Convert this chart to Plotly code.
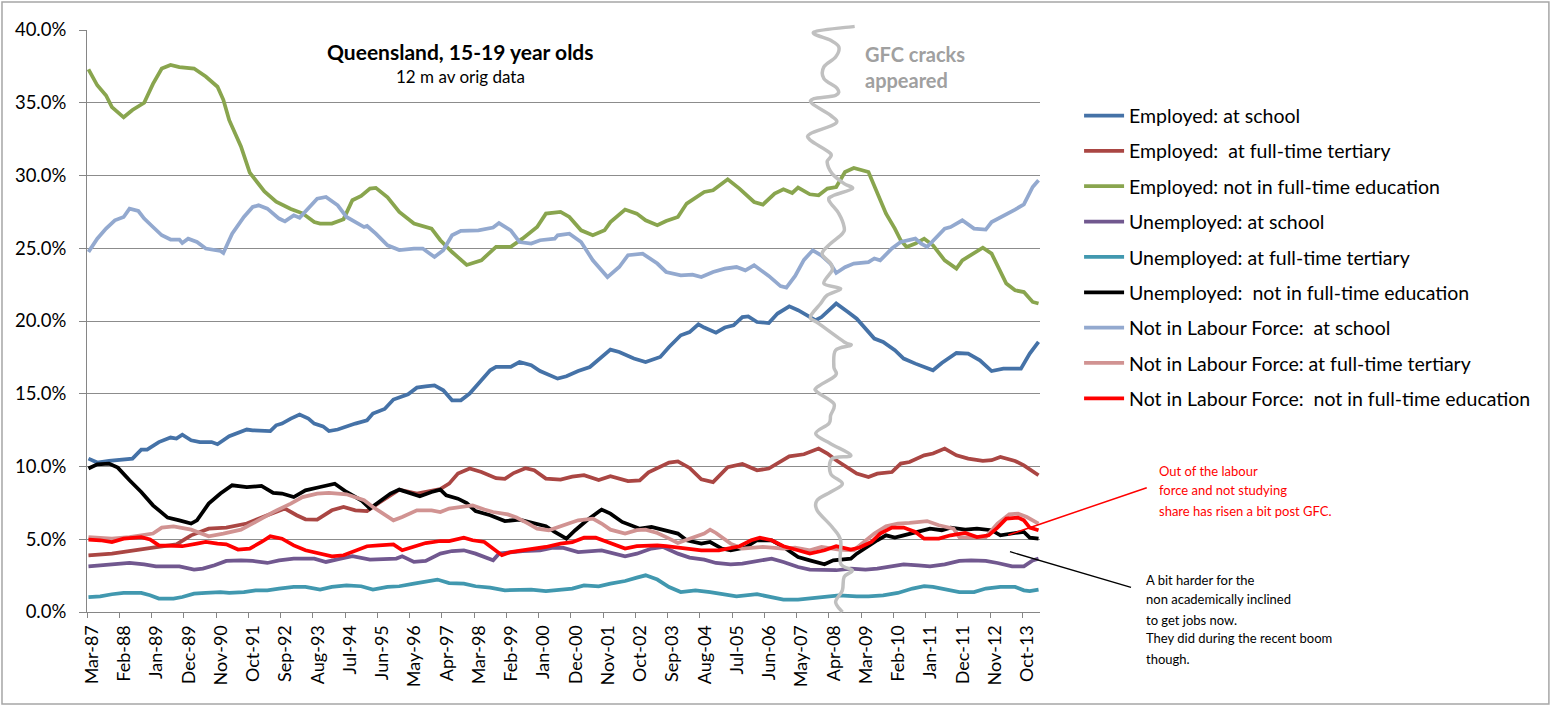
import plotly.graph_objects as go

# ---------------- axis categories (month index 0 = Mar-87, 324 = Mar-14) ----------------
n_months = 325
tick_labels = ["Mar-87", "Feb-88", "Jan-89", "Dec-89", "Nov-90", "Oct-91", "Sep-92", "Aug-93",
               "Jul-94", "Jun-95", "May-96", "Apr-97", "Mar-98", "Feb-99", "Jan-00", "Dec-00",
               "Nov-01", "Oct-02", "Sep-03", "Aug-04", "Jul-05", "Jun-06", "May-07", "Apr-08",
               "Mar-09", "Feb-10", "Jan-11", "Dec-11", "Nov-12", "Oct-13"]
tick_step = 11
y_ticks = [0, 5, 10, 15, 20, 25, 30, 35, 40]

# ---------------- series (month index, percent) ----------------
emp_school_m = [0, 3, 7, 11, 15, 18, 20, 24, 28, 30, 32, 35, 38, 42, 44, 48, 51, 54, 56, 60, 62, 64, 66, 69, 72, 75, 77, 80, 82, 85, 88, 91, 95, 97, 101, 104, 109, 112, 115, 118, 121, 124, 127, 130, 134, 137, 139, 144, 147, 151, 154, 160, 163, 167, 171, 175, 178, 181, 186, 190, 192, 195, 198, 202, 205, 208, 210, 214, 217, 220, 223, 225, 228, 232, 235, 239, 242, 245, 248, 250, 255, 259, 262, 268, 271, 275, 278, 282, 285, 288, 291, 296, 300, 304, 308, 312, 318, 321, 324]
emp_school_v = [10.54, 10.27, 10.38, 10.47, 10.54, 11.16, 11.16, 11.68, 11.99, 11.92, 12.19, 11.8, 11.68, 11.68, 11.53, 12.08, 12.3, 12.54, 12.49, 12.49, 12.44, 12.83, 12.95, 13.29, 13.57, 13.29, 12.95, 12.76, 12.44, 12.54, 12.76, 12.95, 13.18, 13.64, 13.95, 14.6, 14.96, 15.42, 15.51, 15.58, 15.24, 14.55, 14.55, 15.01, 15.92, 16.61, 16.84, 16.84, 17.18, 16.96, 16.56, 16.04, 16.2, 16.56, 16.84, 17.53, 18.03, 17.87, 17.42, 17.18, 17.3, 17.53, 18.21, 19.02, 19.24, 19.77, 19.55, 19.2, 19.55, 19.7, 20.27, 20.32, 19.93, 19.86, 20.51, 21.01, 20.74, 20.39, 20.05, 20.27, 21.2, 20.62, 20.16, 18.79, 18.56, 17.99, 17.42, 17.07, 16.84, 16.61, 17.11, 17.8, 17.76, 17.3, 16.56, 16.73, 16.73, 17.76, 18.56]

emp_tert_m = [0, 8, 22, 30, 35, 41, 47, 54, 61, 67, 71, 74, 78, 83, 87, 91, 95, 99, 106, 112, 120, 123, 126, 130, 134, 139, 142, 145, 149, 152, 156, 161, 165, 169, 174, 178, 184, 188, 191, 198, 201, 205, 209, 213, 218, 223, 228, 232, 239, 244, 249, 252, 255, 259, 262, 266, 269, 274, 277, 280, 285, 288, 292, 296, 300, 305, 308, 311, 316, 319, 324]
emp_tert_v = [3.9, 4.01, 4.43, 4.65, 5.27, 5.73, 5.8, 6.08, 6.65, 7.11, 6.65, 6.37, 6.35, 6.99, 7.22, 6.99, 6.94, 7.5, 8.4, 8.14, 8.45, 8.82, 9.51, 9.86, 9.62, 9.2, 9.15, 9.55, 9.88, 9.74, 9.17, 9.1, 9.3, 9.4, 9.07, 9.33, 9.0, 9.05, 9.6, 10.27, 10.35, 9.9, 9.12, 8.93, 9.95, 10.17, 9.74, 9.86, 10.7, 10.84, 11.23, 10.89, 10.43, 9.86, 9.51, 9.28, 9.51, 9.62, 10.2, 10.31, 10.77, 10.89, 11.23, 10.77, 10.54, 10.38, 10.43, 10.65, 10.38, 10.08, 9.4]

emp_notedu_m = [0, 3, 6, 8, 12, 15, 19, 22, 25, 28, 31, 36, 40, 44, 46, 48, 52, 55, 60, 64, 69, 73, 77, 79, 83, 87, 90, 93, 96, 98, 102, 106, 111, 117, 120, 124, 129, 134, 139, 144, 148, 153, 156, 161, 164, 168, 172, 176, 178, 183, 187, 190, 194, 197, 201, 204, 210, 213, 218, 222, 227, 230, 234, 237, 240, 242, 246, 249, 252, 255, 258, 261, 266, 269, 272, 275, 277, 279, 282, 285, 288, 292, 296, 298, 302, 305, 308, 310, 313, 316, 319, 322, 324]
emp_notedu_v = [37.3, 36.2, 35.5, 34.7, 34.0, 34.5, 35.0, 36.3, 37.35, 37.6, 37.45, 37.35, 36.8, 36.1, 35.2, 33.8, 32.0, 30.2, 28.9, 28.2, 27.7, 27.4, 26.8, 26.7, 26.7, 27.0, 28.3, 28.6, 29.1, 29.15, 28.5, 27.5, 26.7, 26.35, 25.55, 24.74, 23.85, 24.17, 25.1, 25.1, 25.66, 26.46, 27.38, 27.5, 27.15, 26.23, 25.89, 26.23, 26.8, 27.66, 27.38, 26.92, 26.58, 26.87, 27.15, 28.07, 28.87, 28.98, 29.74, 29.1, 28.18, 28.0, 28.76, 29.05, 28.8, 29.17, 28.71, 28.64, 29.1, 29.21, 30.24, 30.52, 30.24, 28.76, 27.38, 26.35, 25.55, 25.09, 25.32, 25.66, 25.2, 24.17, 23.6, 24.17, 24.63, 25.04, 24.63, 23.83, 22.57, 22.11, 21.99, 21.31, 21.2]

unemp_school_m = [0, 4, 8, 14, 19, 23, 31, 36, 39, 43, 47, 52, 56, 61, 65, 70, 77, 81, 86, 90, 96, 101, 105, 107, 111, 115, 120, 124, 128, 132, 138, 140, 144, 148, 154, 158, 162, 167, 175, 179, 183, 187, 192, 196, 201, 205, 210, 214, 219, 223, 228, 233, 237, 242, 246, 251, 255, 260, 265, 269, 274, 278, 283, 287, 292, 297, 301, 306, 310, 315, 319, 322, 324]
unemp_school_v = [3.14, 3.21, 3.28, 3.37, 3.28, 3.14, 3.14, 2.91, 2.98, 3.21, 3.51, 3.55, 3.51, 3.37, 3.55, 3.67, 3.67, 3.44, 3.67, 3.83, 3.6, 3.67, 3.67, 3.83, 3.44, 3.51, 4.01, 4.19, 4.24, 4.01, 3.55, 4.01, 4.12, 4.19, 4.24, 4.4, 4.4, 4.12, 4.24, 4.01, 3.83, 4.01, 4.36, 4.47, 4.01, 3.74, 3.6, 3.37, 3.28, 3.33, 3.51, 3.67, 3.44, 3.09, 2.91, 2.91, 2.87, 2.98, 2.91, 2.98, 3.14, 3.28, 3.21, 3.14, 3.28, 3.51, 3.55, 3.51, 3.37, 3.14, 3.14, 3.55, 3.67]

unemp_tert_m = [0, 4, 8, 12, 18, 21, 24, 29, 32, 36, 40, 45, 48, 53, 57, 61, 65, 70, 74, 79, 83, 88, 93, 97, 102, 106, 111, 115, 119, 123, 128, 132, 137, 142, 146, 151, 156, 161, 165, 169, 174, 178, 183, 187, 190, 194, 198, 202, 207, 212, 216, 221, 228, 232, 237, 242, 246, 250, 256, 262, 266, 271, 276, 281, 285, 288, 293, 297, 302, 306, 311, 316, 319, 321, 324]
unemp_tert_v = [1.03, 1.08, 1.22, 1.31, 1.31, 1.15, 0.92, 0.92, 1.03, 1.26, 1.31, 1.37, 1.31, 1.37, 1.49, 1.49, 1.61, 1.72, 1.72, 1.54, 1.72, 1.83, 1.77, 1.54, 1.72, 1.77, 1.95, 2.06, 2.23, 1.99, 1.95, 1.77, 1.68, 1.49, 1.49, 1.54, 1.44, 1.5, 1.61, 1.83, 1.77, 1.95, 2.13, 2.36, 2.52, 2.23, 1.72, 1.37, 1.49, 1.37, 1.22, 1.08, 1.22, 1.03, 0.85, 0.85, 0.92, 0.99, 1.15, 1.08, 1.08, 1.15, 1.31, 1.61, 1.77, 1.72, 1.54, 1.37, 1.37, 1.61, 1.72, 1.72, 1.49, 1.44, 1.54]

unemp_notedu_m = [0, 3, 7, 10, 14, 18, 22, 27, 31, 35, 37, 41, 45, 49, 54, 59, 63, 66, 70, 74, 79, 84, 88, 93, 96, 99, 103, 106, 110, 113, 117, 120, 122, 126, 129, 132, 137, 142, 147, 151, 156, 159, 163, 166, 170, 175, 178, 182, 185, 188, 192, 196, 201, 204, 209, 212, 216, 219, 224, 228, 233, 237, 242, 246, 251, 254, 260, 262, 266, 269, 272, 275, 278, 283, 287, 291, 294, 299, 303, 308, 311, 316, 319, 321, 324]
unemp_notedu_v = [9.86, 10.15, 10.2, 9.92, 9.05, 8.25, 7.33, 6.49, 6.3, 6.08, 6.3, 7.45, 8.14, 8.71, 8.59, 8.66, 8.18, 8.14, 7.9, 8.36, 8.59, 8.82, 8.25, 7.68, 7.11, 7.56, 8.14, 8.41, 8.14, 7.95, 8.25, 8.41, 8.02, 7.79, 7.49, 6.94, 6.65, 6.25, 6.35, 6.12, 5.89, 5.5, 5.04, 5.62, 6.3, 7.04, 6.76, 6.19, 5.96, 5.73, 5.84, 5.62, 5.39, 4.93, 4.7, 4.81, 4.36, 4.24, 4.43, 4.93, 4.93, 4.47, 3.78, 3.55, 3.28, 3.55, 3.67, 4.01, 4.58, 4.93, 5.27, 5.11, 5.27, 5.5, 5.73, 5.62, 5.8, 5.66, 5.73, 5.62, 5.27, 5.43, 5.5, 5.11, 5.04]

nilf_school_m = [0, 3, 6, 9, 12, 14, 17, 19, 22, 25, 28, 31, 32, 34, 37, 40, 45, 46, 49, 53, 56, 58, 61, 65, 67, 70, 72, 76, 78, 81, 85, 88, 94, 95, 98, 102, 106, 111, 114, 118, 121, 124, 127, 133, 138, 140, 144, 147, 151, 154, 159, 160, 164, 168, 172, 177, 181, 184, 189, 194, 197, 202, 206, 209, 213, 217, 221, 224, 227, 232, 236, 238, 241, 244, 247, 250, 253, 255, 258, 261, 266, 268, 270, 274, 277, 282, 284, 286, 290, 292, 294, 298, 302, 306, 308, 312, 316, 319, 322, 324]
nilf_school_v = [24.74, 25.66, 26.35, 26.92, 27.15, 27.72, 27.56, 27.04, 26.46, 25.89, 25.6, 25.6, 25.36, 25.66, 25.43, 24.98, 24.81, 24.67, 26.0, 27.15, 27.84, 27.95, 27.72, 27.04, 26.85, 27.26, 27.1, 27.95, 28.41, 28.52, 27.95, 27.15, 26.46, 26.53, 26.0, 25.2, 24.88, 24.98, 24.98, 24.4, 24.86, 25.89, 26.19, 26.23, 26.42, 26.73, 26.23, 25.43, 25.32, 25.55, 25.66, 25.89, 26.0, 25.43, 24.17, 23.02, 23.71, 24.52, 24.63, 23.95, 23.37, 23.14, 23.19, 23.02, 23.37, 23.6, 23.71, 23.48, 23.83, 23.1, 22.4, 22.3, 23.1, 24.2, 24.86, 24.5, 23.95, 23.3, 23.7, 23.95, 24.05, 24.3, 24.17, 24.98, 25.43, 25.66, 25.32, 25.09, 25.89, 26.35, 26.46, 26.92, 26.35, 26.28, 26.8, 27.2, 27.66, 28.02, 29.21, 29.67]

nilf_tert_m = [0, 4, 8, 14, 19, 22, 25, 29, 35, 38, 41, 46, 52, 57, 63, 69, 73, 78, 82, 88, 94, 97, 101, 104, 107, 112, 117, 120, 123, 128, 131, 135, 138, 143, 146, 150, 153, 157, 160, 164, 167, 172, 175, 178, 183, 187, 190, 194, 197, 201, 205, 210, 212, 214, 219, 223, 230, 237, 241, 246, 250, 256, 261, 264, 268, 272, 276, 280, 286, 290, 295, 297, 302, 306, 310, 314, 317, 320, 324]
nilf_tert_v = [5.15, 5.11, 5.04, 5.15, 5.34, 5.39, 5.8, 5.89, 5.66, 5.43, 5.2, 5.39, 5.66, 6.19, 6.87, 7.45, 7.9, 8.14, 8.18, 8.09, 7.68, 7.22, 6.65, 6.3, 6.53, 6.99, 6.99, 6.87, 7.11, 7.22, 7.33, 7.04, 6.87, 6.71, 6.49, 6.08, 5.73, 5.62, 5.8, 6.1, 6.3, 6.42, 6.08, 5.66, 5.39, 5.62, 5.66, 5.43, 5.15, 4.74, 5.04, 5.39, 5.66, 5.43, 4.7, 4.36, 4.47, 4.36, 4.43, 4.24, 4.47, 4.29, 4.24, 4.7, 5.39, 5.89, 6.08, 6.12, 6.25, 5.96, 5.73, 5.15, 5.11, 5.15, 6.08, 6.71, 6.76, 6.53, 6.08]

nilf_notedu_m = [0, 4, 8, 12, 18, 21, 24, 29, 32, 37, 40, 44, 47, 51, 55, 59, 62, 66, 70, 74, 79, 83, 87, 91, 95, 99, 104, 107, 111, 115, 120, 123, 128, 131, 135, 138, 141, 144, 148, 152, 156, 161, 165, 169, 173, 177, 183, 187, 194, 197, 203, 209, 215, 222, 226, 229, 233, 237, 242, 246, 251, 255, 260, 263, 267, 270, 274, 278, 282, 285, 290, 294, 299, 303, 307, 310, 313, 317, 319, 321, 324]
nilf_notedu_v = [4.98, 4.93, 4.81, 5.04, 5.15, 4.98, 4.58, 4.52, 4.52, 4.7, 4.81, 4.7, 4.65, 4.29, 4.36, 4.81, 5.2, 5.04, 4.58, 4.24, 4.01, 3.83, 3.9, 4.24, 4.52, 4.58, 4.65, 4.24, 4.52, 4.74, 4.88, 4.88, 5.11, 4.93, 4.81, 4.36, 3.9, 4.12, 4.24, 4.36, 4.47, 4.7, 4.8, 5.11, 5.11, 4.81, 4.36, 4.52, 4.58, 4.52, 4.36, 4.24, 4.24, 4.52, 4.93, 5.11, 4.93, 4.52, 4.24, 4.01, 4.24, 4.52, 4.29, 4.43, 4.81, 5.39, 5.8, 5.8, 5.5, 5.04, 5.04, 5.27, 5.43, 5.15, 5.27, 5.8, 6.42, 6.49, 6.3, 5.8, 5.62]

# hand-drawn "GFC" marker line (month index, percent)
gfc_m = [261.3, 247.4, 253.1, 255.9, 254.8, 250.8, 250.8, 255.4, 254.8, 247.4, 246.8, 253.1, 254.8, 246.2, 246.2, 253.1, 251.9, 253.6, 257.7, 260.5, 254.2, 252.5, 255.9, 257.7, 257.1, 253.1, 250.2, 253.1, 253.6, 250.8, 256.5, 251.9, 249.7, 246.2, 249.1, 257.7, 260.0, 254.8, 254.2, 254.8, 248.5, 248.5, 254.2, 253.1, 252.5, 248.0, 253.1, 260.0, 253.6, 253.1, 257.1, 253.1, 248.5, 248.5, 253.6, 256.5, 256.5, 260.5, 257.7, 257.1, 254.8, 257.1]
gfc_v = [40.25, 39.86, 39.29, 38.83, 38.14, 37.46, 36.66, 35.97, 35.51, 35.28, 34.94, 34.13, 33.57, 32.88, 32.42, 31.5, 30.93, 30.13, 29.44, 29.1, 28.64, 28.3, 27.38, 26.46, 26.01, 25.32, 24.63, 23.95, 23.48, 22.57, 22.23, 21.77, 21.2, 20.27, 19.82, 18.56, 18.33, 17.99, 16.84, 16.27, 15.46, 15.12, 14.32, 13.52, 12.95, 12.26, 11.57, 10.77, 10.54, 9.51, 8.82, 8.25, 7.68, 6.99, 5.84, 4.93, 3.33, 2.87, 2.41, 1.49, 0.69, 0.0]

series = [
    ("Employed: at school", emp_school_m, emp_school_v, "#4572A7"),
    ("Employed:  at full-time tertiary", emp_tert_m, emp_tert_v, "#AA4643"),
    ("Employed: not in full-time education", emp_notedu_m, emp_notedu_v, "#89A54E"),
    ("Unemployed: at school", unemp_school_m, unemp_school_v, "#71588F"),
    ("Unemployed: at full-time tertiary", unemp_tert_m, unemp_tert_v, "#4198AF"),
    ("Unemployed:  not in full-time education", unemp_notedu_m, unemp_notedu_v, "#000000"),
    ("Not in Labour Force:  at school", nilf_school_m, nilf_school_v, "#93A9CF"),
    ("Not in Labour Force: at full-time tertiary", nilf_tert_m, nilf_tert_v, "#D19392"),
    ("Not in Labour Force:  not in full-time education", nilf_notedu_m, nilf_notedu_v, "#FF0000"),
]

FONT = "Lato"
GRID = "#8c8c8c"

fig = go.Figure()
for i, (name, m, v, col) in enumerate(series):
    fig.add_trace(go.Scatter(
        x=m, y=v, mode="lines", name=name, legendgroup="g%d" % i,
        line=dict(color=col, width=3.75),
        hovertemplate="%{y:.1f}%<extra>" + name + "</extra>",
    ))

# GFC marker drawn in paper coordinates (not clipped at the plot top), smoothed with
# Catmull-Rom -> cubic Bezier segments
gp = [((mm + 0.5) / n_months, vv / 40.0) for mm, vv in zip(gfc_m, gfc_v)]
segs = ["M %.5f,%.5f" % gp[0]]
for i in range(len(gp) - 1):
    p0 = gp[i - 1] if i > 0 else gp[i]
    p1 = gp[i]
    p2 = gp[i + 1]
    p3 = gp[i + 2] if i + 2 < len(gp) else gp[i + 1]
    c1 = (p1[0] + (p2[0] - p0[0]) / 6, p1[1] + (p2[1] - p0[1]) / 6)
    c2 = (p2[0] - (p3[0] - p1[0]) / 6, p2[1] - (p3[1] - p1[1]) / 6)
    segs.append("C %.5f,%.5f %.5f,%.5f %.5f,%.5f" % (c1 + c2 + p2))
gfc_path = " ".join(segs)

shapes = [
    dict(type="path", path=gfc_path, xref="paper", yref="paper",
         line=dict(color="#c0c0c0", width=3.5), layer="above"),
    # annotation pointer lines
    dict(type="line", xref="paper", yref="paper", x0=1.112, y0=0.2136, x1=0.9667, y1=0.1323,
         line=dict(color="#ff0000", width=1.5)),
    dict(type="line", xref="paper", yref="paper", x0=1.0955, y0=0.0424, x1=0.9685, y1=0.1036,
         line=dict(color="#000000", width=1.3)),
    # chart frame
    dict(type="rect", xref="paper", yref="paper", x0=-0.0892, x1=1.534, y0=-0.158, y1=1.048,
         line=dict(color="#a6a6a6", width=1.5)),
]

annotations = [
    dict(text="<b>Queensland, 15-19 year olds</b>", x=0.3914, y=0.9627, xref="paper", yref="paper",
         showarrow=False, font=dict(family=FONT, size=21, color="black"), xanchor="center", yanchor="middle"),
    dict(text="12 m av orig data", x=0.3914, y=0.920, xref="paper", yref="paper",
         showarrow=False, font=dict(family=FONT, size=17, color="black"), xanchor="center", yanchor="middle"),
    dict(text="<b>GFC cracks<br>appeared</b>", x=0.814, y=0.937, xref="paper", yref="paper",
         showarrow=False, align="left", font=dict(family=FONT, size=20, color="#a0a0a0"),
         xanchor="left", yanchor="middle"),
]

red_lines = ["Out of the labour", "force and not studying", "share has risen a bit post GFC."]
red_y = [470.7, 490.0, 510.7]
for t, py in zip(red_lines, red_y):
    annotations.append(dict(text=t, x=(1156.7 - 87) / 953, y=(612 - py) / 582, xref="paper", yref="paper",
                            showarrow=False, xanchor="left", yanchor="middle",
                            font=dict(family=FONT, size=13, color="#ff0000")))

black_lines = ["A bit harder for the", "non academically inclined", "to get jobs now.",
               "They did during the recent boom", "though."]
black_y = [580.0, 599.0, 620.0, 637.7, 659.0]
for t, py in zip(black_lines, black_y):
    annotations.append(dict(text=t, x=(1144.3 - 87) / 953, y=(612 - py) / 582, xref="paper", yref="paper",
                            showarrow=False, xanchor="left", yanchor="middle",
                            font=dict(family=FONT, size=13, color="#000000")))

fig.update_layout(
    width=1551, height=706,
    margin=dict(l=87, r=511, t=30, b=94, pad=0),
    paper_bgcolor="white", plot_bgcolor="white",
    font=dict(family=FONT, size=18, color="black"),
    showlegend=True,
    legend=dict(x=1.041, y=0.886, xanchor="left", yanchor="top",
                font=dict(family=FONT, size=19.5, color="black"),
                tracegroupgap=7, itemwidth=40, bgcolor="rgba(0,0,0,0)",
                traceorder="grouped"),
    shapes=shapes,
    annotations=annotations,
    xaxis=dict(range=[-0.5, n_months - 0.5], tickmode="array",
               tickvals=[tick_step * k - 0.5 for k in range(len(tick_labels))],
               ticktext=tick_labels, tickangle=-90, ticks="outside", ticklen=5,
               tickcolor="#868686", showline=True, linecolor="#868686", linewidth=1,
               showgrid=False, zeroline=False, ticklabelshift=5,
               tickfont=dict(family=FONT, size=18, color="black")),
    yaxis=dict(range=[0, 40], tickmode="array", tickvals=y_ticks,
               ticktext=["%.1f%%" % t for t in y_ticks], ticks="outside", ticklen=7,
               tickcolor="#868686", showline=True, linecolor="#868686", linewidth=1,
               showgrid=True, gridcolor=GRID, gridwidth=1, zeroline=False,
               ticklabelstandoff=9,
               tickfont=dict(family=FONT, size=18.5, color="black")),
)

fig.write_html("out.html", config={"displayModeBar": False},
               post_script="document.body.style.margin='0';")
